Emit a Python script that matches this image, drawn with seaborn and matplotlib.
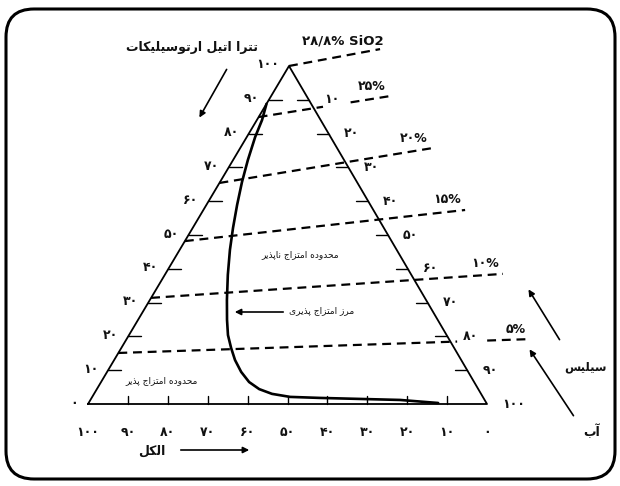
import matplotlib
matplotlib.use("Agg")
import matplotlib.pyplot as plt
from matplotlib.patches import FancyBboxPatch
import pandas as pd
import seaborn as sns

# ---------------- data (percent) ----------------
tick_values = [0, 10, 20, 30, 40, 50, 60, 70, 80, 90, 100]
tick_labels = ["۰", "۱۰", "۲۰", "۳۰", "۴۰", "۵۰", "۶۰", "۷۰", "۸۰", "۹۰", "۱۰۰"]

# miscibility boundary: TEOS and water content along the curve
boundary_teos = [88.8, 84.0, 79.0, 72.2, 65.7, 58.9, 52.1, 45.6, 38.2, 30.8, 24.9,
                 20.4, 16.6, 13.0, 9.5, 6.5, 4.4, 3.0, 2.1, 1.8, 1.5, 1.2, 0.3]
boundary_water = [0.0, 1.3, 2.1, 3.7, 5.5, 7.7, 10.1, 12.6, 15.8, 19.3, 22.3,
                  24.8, 27.5, 30.3, 33.6, 37.1, 40.7, 44.6, 49.6, 57.2, 67.4, 77.6, 87.6]

# iso-SiO2 lines (start on the TEOS/alcohol side, run out past the water side)
sio2_labels = ["۲۸/۸% SiO2", "۲۵%", "۲۰%", "۱۵%", "۱۰%", "۵%"]
iso_start_teos = [100.0, 84.9, 65.4, 48.2, 31.4, 15.1]
iso_start_water = [0.0, 0.0, 0.0, 0.0, 0.0, 0.0]
iso_end_teos = [105.0, 91.1, 75.7, 57.4, 38.5, 19.2]
iso_end_water = [20.3, 29.8, 48.1, 65.6, 84.6, 101.1]

title_teos = "تترا اتیل ارتوسیلیکات"
label_immiscible = "محدوده امتزاج ناپذیر"
label_boundary = "مرز امتزاج پذیری"
label_miscible = "محدوده امتزاج پذیر"
label_alcohol = "الکل"
label_silica = "سیلیس"
label_water = "آب"

# break in a dashed line where it passes a side label (fraction of its length)
line_breaks = {"۲۵%": (0.49, 0.70), "۵%": (0.823, 0.896)}

# ---------------- Persian shaping (matplotlib has no text shaping) ----------------
FORMS = {
    'ا': (0xFE8D, 0xFE8E, None, None), 'آ': (0xFE81, 0xFE82, None, None),
    'ب': (0xFE8F, 0xFE90, 0xFE91, 0xFE92), 'پ': (0xFB56, 0xFB57, 0xFB58, 0xFB59),
    'ت': (0xFE95, 0xFE96, 0xFE97, 0xFE98), 'ج': (0xFE9D, 0xFE9E, 0xFE9F, 0xFEA0),
    'ح': (0xFEA1, 0xFEA2, 0xFEA3, 0xFEA4), 'د': (0xFEA9, 0xFEAA, None, None),
    'ذ': (0xFEAB, 0xFEAC, None, None), 'ر': (0xFEAD, 0xFEAE, None, None),
    'ز': (0xFEAF, 0xFEB0, None, None), 'س': (0xFEB1, 0xFEB2, 0xFEB3, 0xFEB4),
    'ک': (0xFB8E, 0xFB8F, 0xFB90, 0xFB91), 'ل': (0xFEDD, 0xFEDE, 0xFEDF, 0xFEE0),
    'م': (0xFEE1, 0xFEE2, 0xFEE3, 0xFEE4), 'ن': (0xFEE5, 0xFEE6, 0xFEE7, 0xFEE8),
    'و': (0xFEED, 0xFEEE, None, None), 'ه': (0xFEE9, 0xFEEA, 0xFEEB, 0xFEEC),
    'ی': (0xFBFC, 0xFBFD, 0xFBFE, 0xFBFF),
}


def fa(text):
    chars = list(text)
    out = []
    for i, c in enumerate(chars):
        if c not in FORMS:
            out.append(c)
            continue
        prev = chars[i - 1] if i > 0 else None
        nxt = chars[i + 1] if i + 1 < len(chars) else None
        join_prev = prev in FORMS and FORMS[prev][2] is not None
        join_next = nxt in FORMS and FORMS[c][2] is not None
        iso, fin, ini, med = FORMS[c]
        if join_prev and join_next:
            g = med
        elif join_prev:
            g = fin
        elif join_next:
            g = ini
        else:
            g = iso
        out.append(chr(g))
    return "".join(reversed(out))


# ---------------- ternary geometry (pixel frame) ----------------
V_ALC = (88.0, 404.0)     # 100 % alcohol
V_WAT = (487.0, 404.0)    # 100 % water
V_TEOS = (289.0, 66.0)    # 100 % TEOS


def tern(teos, water):
    alc = 100.0 - teos - water
    x = (alc * V_ALC[0] + water * V_WAT[0] + teos * V_TEOS[0]) / 100.0
    y = (alc * V_ALC[1] + water * V_WAT[1] + teos * V_TEOS[1]) / 100.0
    return x, y


sns.set_theme(style="white")
plt.rcParams["font.family"] = ["DejaVu Sans"]

fig = plt.figure(figsize=(6.2, 4.86), dpi=100)
ax = fig.add_axes([0, 0, 1, 1])
ax.set_axis_off()

# rounded frame
ax.add_patch(FancyBboxPatch((6, 9), 609, 470, boxstyle="round,pad=0,rounding_size=28",
                            fc="white", ec="black", lw=2.2, zorder=0))

# triangle outline
corners = [tern(0, 0), tern(0, 100), tern(100, 0), tern(0, 0)]
tri = pd.DataFrame({"x": [c[0] for c in corners], "y": [c[1] for c in corners]})
sns.lineplot(data=tri, x="x", y="y", sort=False, estimator=None, color="black",
             lw=1.3, ax=ax)

ink = "#111111"
dark = dict(color=ink, fontweight="bold", fontsize=9)

# ticks and labels on the three sides
for v, lab in zip(tick_values, tick_labels):
    # left side: TEOS
    x, y = tern(v, 0)
    if 0 < v < 100:
        ax.plot([x, x + 13], [y, y], color="black", lw=1.0)
    ax.text(x - 10, y - 1, lab, ha="right", va="center", **dark)
    # right side: water
    x, y = tern(100 - v, v)
    if 0 < v < 100:
        ax.plot([x - 12, x], [y, y], color="black", lw=1.0)
    if v > 0:
        ax.text(x + 15, y, lab, ha="left", va="center", **dark)
    # bottom: alcohol
    x, y = tern(0, 100 - v)
    if 0 < v < 100:
        ax.plot([x, x], [y, y - 8], color="black", lw=1.0)
    ax.text(x, y + 28, lab, ha="center", va="center", **dark)

# iso-SiO2 dashed lines with their labels
dash = dict(color="black", lw=1.6, linestyle=(0, (4, 2.6)))
for lab, t0, w0, t1, w1 in zip(sio2_labels, iso_start_teos, iso_start_water,
                               iso_end_teos, iso_end_water):
    x0, y0 = tern(t0, w0)
    x1, y1 = tern(t1, w1)
    if lab in line_breaks:
        f0, f1 = line_breaks[lab]
        ax.plot([x0, x0 + f0 * (x1 - x0)], [y0, y0 + f0 * (y1 - y0)], **dash)
        ax.plot([x0 + f1 * (x1 - x0), x1], [y0 + f1 * (y1 - y0), y1], **dash)
    else:
        ax.plot([x0, x1], [y0, y1], **dash)
    if "SiO2" in lab:
        ax.text(x1 + 4, y1 - 8, lab, ha="right", va="center", color=ink,
                fontweight="bold", fontsize=9.5)
    else:
        ax.text(x1 - 4, y1 - 10, lab, ha="right", va="center", **dark)

# miscibility boundary
bx, by = zip(*[tern(t, w) for t, w in zip(boundary_teos, boundary_water)])
curve = pd.DataFrame({"x": bx, "y": by})
sns.lineplot(data=curve, x="x", y="y", sort=False, estimator=None, color="black",
             lw=1.9, ax=ax)

# texts and arrows
arrow = dict(arrowstyle="-|>", color="black", lw=1.2, mutation_scale=9)
ax.text(192, 48, fa(title_teos), ha="center", va="center", color=ink,
        fontweight="bold", fontsize=9)
ax.annotate("", xy=(198, 120), xytext=(228, 67), arrowprops=arrow)

ax.text(300, 255, fa(label_immiscible), ha="center", va="center", color=ink, fontsize=6.5)
ax.text(322, 311, fa(label_boundary), ha="center", va="center", color=ink, fontsize=6.5)
ax.annotate("", xy=(232, 312), xytext=(286, 312), arrowprops=arrow)
ax.text(162, 381, fa(label_miscible), ha="center", va="center", color=ink, fontsize=6.5)

ax.text(152, 451, fa(label_alcohol), ha="center", va="center", color=ink,
        fontweight="bold", fontsize=9)
ax.annotate("", xy=(252, 450), xytext=(178, 450), arrowprops=arrow)

ax.text(607, 367, fa(label_silica), ha="right", va="center", color=ink,
        fontweight="bold", fontsize=8.5)
ax.annotate("", xy=(527, 287), xytext=(561, 342), arrowprops=arrow)
ax.text(600, 432, fa(label_water), ha="right", va="center", color=ink,
        fontweight="bold", fontsize=9)
ax.annotate("", xy=(528, 347), xytext=(575, 418), arrowprops=arrow)

ax.set_xlim(0, 620)
ax.set_ylim(486, 0)
ax.set_aspect("auto")

fig.savefig("out.png", dpi=100, facecolor="white")
